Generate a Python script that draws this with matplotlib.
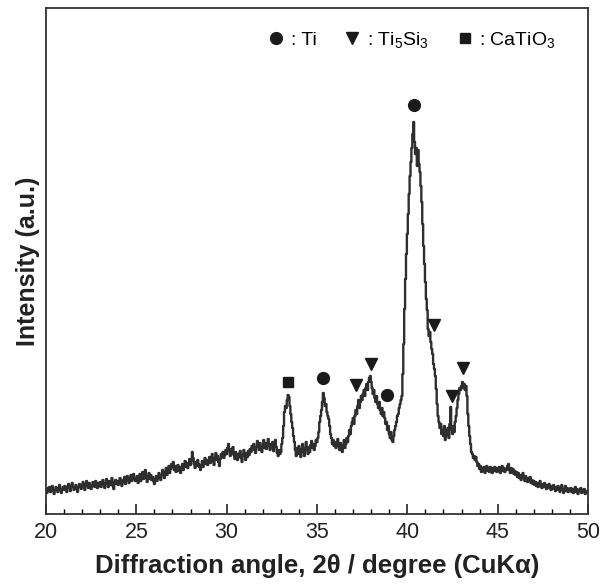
import numpy as np
import matplotlib
matplotlib.use("Agg")
import matplotlib.pyplot as plt
from matplotlib.lines import Line2D

plt.rcParams['font.family'] = ['Liberation Sans', 'DejaVu Sans']
plt.rcParams['mathtext.fontset'] = 'custom'
plt.rcParams['mathtext.rm'] = 'Liberation Sans'
plt.rcParams['mathtext.it'] = 'Liberation Sans:italic'
plt.rcParams['mathtext.bf'] = 'Liberation Sans:bold'

# scan: 20-50 deg, step 0.05 deg, one row per degree
counts = [
    24, 21, 26, 23, 27, 22, 25, 28, 23, 20, 24, 27, 25, 22, 26, 29, 24, 21, 25, 27,   # 20
    24, 28, 25, 22, 27, 30, 26, 23, 28, 31, 27, 24, 26, 29, 25, 22, 27, 30, 28, 25,   # 21
    29, 32, 27, 24, 30, 33, 28, 26, 31, 29, 25, 28, 32, 30, 27, 33, 29, 26, 31, 28,   # 22
    32, 27, 30, 34, 29, 26, 31, 35, 30, 27, 33, 29, 31, 36, 28, 25, 32, 34, 30, 33,   # 23
    29, 33, 36, 31, 28, 34, 32, 37, 30, 33, 38, 34, 31, 36, 39, 33, 35, 40, 36, 33,   # 24
    34, 38, 31, 36, 40, 33, 37, 42, 35, 39, 44, 36, 32, 38, 41, 35, 39, 34, 37, 33,   # 25
    30, 35, 38, 33, 36, 41, 37, 34, 39, 44, 40, 36, 42, 46, 39, 43, 48, 41, 45, 50,   # 26
    47, 52, 44, 48, 42, 45, 49, 43, 47, 41, 46, 50, 44, 48, 53, 47, 51, 46, 50, 55,   # 27
    49, 53, 62, 56, 50, 46, 52, 48, 54, 50, 47, 44, 49, 53, 47, 51, 56, 50, 54, 49,   # 28
    52, 57, 51, 55, 60, 53, 49, 56, 61, 54, 58, 52, 48, 55, 60, 57, 62, 56, 59, 64,   # 29
    60, 66, 70, 63, 58, 65, 61, 67, 59, 55, 62, 58, 54, 60, 57, 63, 56, 52, 59, 64,   # 30
    58, 54, 61, 57, 63, 59, 65, 62, 68, 64, 70, 66, 61, 67, 73, 69, 64, 71, 67, 62,   # 31
    68, 74, 66, 71, 65, 69, 75, 68, 64, 70, 66, 72, 63, 68, 74, 67, 61, 58, 64, 60,   # 32
    62, 70, 76, 88, 102, 108, 106, 114, 119, 117, 108, 100, 92, 86, 78, 72, 64, 58, 66, 60,   # 33
    68, 63, 57, 65, 70, 62, 58, 66, 72, 64, 60, 67, 62, 69, 73, 66, 70, 64, 68, 74,   # 34
    72, 76, 82, 92, 98, 104, 112, 121, 116, 108, 110, 102, 98, 95, 88, 80, 76, 70, 74, 68,   # 35
    72, 66, 70, 75, 68, 64, 71, 67, 62, 69, 74, 66, 70, 76, 72, 78, 84, 80, 88, 92,   # 36
    96, 90, 98, 104, 100, 108, 114, 106, 112, 118, 114, 120, 124, 118, 126, 130, 124, 132, 136, 138,   # 37
    132, 126, 120, 124, 116, 112, 118, 110, 106, 112, 104, 100, 106, 98, 102, 96, 90, 92, 84, 88,   # 38
    80, 76, 82, 74, 72, 78, 84, 88, 92, 98, 100, 106, 110, 114, 118, 140, 170, 205, 235, 260,   # 39
    280, 300, 320, 338, 352, 366, 380, 392, 372, 360, 366, 348, 364, 350, 342, 328, 312, 290, 268, 250,   # 40
    232, 215, 204, 185, 178, 182, 172, 165, 160, 150, 145, 138, 125, 110, 98, 92, 86, 90, 80, 84,   # 41
    78, 88, 74, 84, 79, 86, 76, 90, 107, 84, 80, 88, 82, 92, 98, 106, 114, 120, 126, 124,   # 42
    128, 132, 126, 130, 124, 128, 118, 100, 88, 78, 70, 62, 60, 56, 58, 54, 57, 52, 48, 50,   # 43
    45, 48, 42, 46, 43, 47, 41, 45, 48, 43, 46, 42, 47, 44, 41, 46, 43, 47, 44, 42,   # 44
    46, 43, 47, 41, 45, 48, 43, 46, 42, 45, 44, 48, 50, 44, 41, 46, 42, 45, 40, 43,   # 45
    39, 42, 37, 41, 36, 39, 34, 38, 41, 36, 33, 38, 35, 32, 36, 33, 37, 31, 34, 30,   # 46
    33, 29, 32, 28, 31, 27, 30, 33, 28, 26, 30, 27, 31, 28, 25, 29, 26, 30, 27, 24,   # 47
    28, 25, 29, 26, 23, 27, 24, 28, 25, 22, 26, 29, 24, 21, 25, 28, 23, 26, 22, 25,   # 48
    23, 26, 22, 25, 21, 24, 27, 22, 25, 20, 24, 23, 26, 21, 24, 22, 25, 20, 23, 22,   # 49
    22,
]
two_theta = np.linspace(20, 50, len(counts))

# peak markers (angle, height above the peak)
ti_pos = [35.33, 38.87, 40.37]
ti_h = [136, 119, 409]
ti5si3_pos = [37.15, 37.99, 41.47, 42.47, 43.08]
ti5si3_h = [129, 150, 189, 118, 146]
catio3_pos = [33.39]
catio3_h = [132]

fig = plt.figure(figsize=(6.02, 5.85), dpi=100)
ax = fig.add_axes([46 / 602, 71 / 585, 542 / 602, 506 / 585])

line_col = '#2e2e2e'
ax.plot(two_theta, counts, color=line_col, lw=1.7, drawstyle='steps-mid')

mcol = '#1a1a1a'
ax.plot(ti_pos, ti_h, 'o', color=mcol, ms=8.5, ls='none')
ax.plot(ti5si3_pos, ti5si3_h, 'v', color=mcol, ms=8.5, ls='none')
ax.plot(catio3_pos, catio3_h, 's', color=mcol, ms=7.5, ls='none')

handles = [
    Line2D([], [], marker='o', color=mcol, ls='none', ms=8.5),
    Line2D([], [], marker='v', color=mcol, ls='none', ms=8.5),
    Line2D([], [], marker='s', color=mcol, ls='none', ms=7.5),
]
names = [': Ti', r': Ti$_5$Si$_3$', r': CaTiO$_3$']
ax.legend(handles, names, ncol=3, loc='upper right', frameon=False,
          fontsize=14, handlelength=0.8, handletextpad=0.35,
          columnspacing=1.45, bbox_to_anchor=(0.962, 0.98), borderaxespad=0.2)

ax.set_xlim(20, 50)
ax.set_ylim(0, 506)
ax.set_xticks(np.arange(20, 51, 5))
ax.set_xticks(np.arange(20, 51, 1), minor=True)
ax.set_yticks([])
ax.tick_params(axis='x', which='major', direction='in', length=7, width=1.2,
               labelsize=15.5, pad=6, colors='#222222')
ax.tick_params(axis='x', which='minor', direction='in', length=3.5, width=1.0)
for s in ax.spines.values():
    s.set_linewidth(1.3)
    s.set_color('#333333')

ax.set_xlabel('Diffraction angle, 2θ / degree (CuKα)', fontsize=18.5,
              fontweight='bold', color='#222222', labelpad=8)
ax.set_ylabel('Intensity (a.u.)', fontsize=18, fontweight='bold',
              color='#222222', labelpad=4)

fig.savefig('out.png', dpi=100)
